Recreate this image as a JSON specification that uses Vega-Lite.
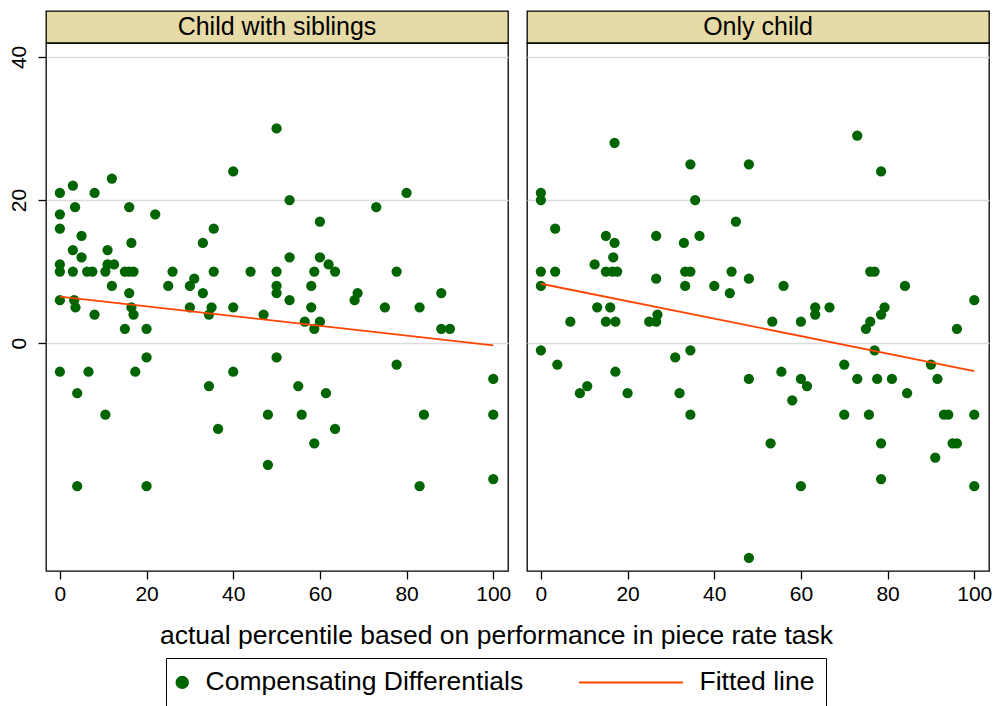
{
  "$schema": "https://vega.github.io/schema/vega-lite/v6.json",
  "padding": {"left": 7, "top": 10, "right": 5, "bottom": 0},
  "background": "white",
  "config": {
    "font": "Liberation Sans",
    "view": {"stroke": "black", "strokeWidth": 1.3},
    "axis": {"labelFont": "Liberation Sans", "labelFontSize": 21, "labelColor": "black", "tickColor": "black", "tickSize": 8, "tickWidth": 1.3, "domain": false, "gridColor": "#DCDCDC", "gridWidth": 1.5}
  },
  "datasets": {
    "pts": [
      {"g":"Child with siblings","s":"Compensating Differentials","x":50,"y":30},
      {"g":"Child with siblings","s":"Compensating Differentials","x":40,"y":24},
      {"g":"Child with siblings","s":"Compensating Differentials","x":12,"y":23},
      {"g":"Child with siblings","s":"Compensating Differentials","x":0,"y":21},
      {"g":"Child with siblings","s":"Compensating Differentials","x":3,"y":22},
      {"g":"Child with siblings","s":"Compensating Differentials","x":8,"y":21},
      {"g":"Child with siblings","s":"Compensating Differentials","x":3.5,"y":19},
      {"g":"Child with siblings","s":"Compensating Differentials","x":16,"y":19},
      {"g":"Child with siblings","s":"Compensating Differentials","x":22,"y":18},
      {"g":"Child with siblings","s":"Compensating Differentials","x":0,"y":18},
      {"g":"Child with siblings","s":"Compensating Differentials","x":0,"y":16},
      {"g":"Child with siblings","s":"Compensating Differentials","x":5,"y":15},
      {"g":"Child with siblings","s":"Compensating Differentials","x":35.5,"y":16},
      {"g":"Child with siblings","s":"Compensating Differentials","x":33,"y":14},
      {"g":"Child with siblings","s":"Compensating Differentials","x":16.5,"y":14},
      {"g":"Child with siblings","s":"Compensating Differentials","x":3,"y":13},
      {"g":"Child with siblings","s":"Compensating Differentials","x":11,"y":13},
      {"g":"Child with siblings","s":"Compensating Differentials","x":5,"y":12},
      {"g":"Child with siblings","s":"Compensating Differentials","x":11,"y":11},
      {"g":"Child with siblings","s":"Compensating Differentials","x":12.5,"y":11},
      {"g":"Child with siblings","s":"Compensating Differentials","x":0,"y":11},
      {"g":"Child with siblings","s":"Compensating Differentials","x":0,"y":10},
      {"g":"Child with siblings","s":"Compensating Differentials","x":3,"y":10},
      {"g":"Child with siblings","s":"Compensating Differentials","x":6.3,"y":10},
      {"g":"Child with siblings","s":"Compensating Differentials","x":7.5,"y":10},
      {"g":"Child with siblings","s":"Compensating Differentials","x":10.5,"y":10},
      {"g":"Child with siblings","s":"Compensating Differentials","x":15,"y":10},
      {"g":"Child with siblings","s":"Compensating Differentials","x":16,"y":10},
      {"g":"Child with siblings","s":"Compensating Differentials","x":17,"y":10},
      {"g":"Child with siblings","s":"Compensating Differentials","x":26,"y":10},
      {"g":"Child with siblings","s":"Compensating Differentials","x":35.5,"y":10},
      {"g":"Child with siblings","s":"Compensating Differentials","x":44,"y":10},
      {"g":"Child with siblings","s":"Compensating Differentials","x":50,"y":10},
      {"g":"Child with siblings","s":"Compensating Differentials","x":12,"y":8},
      {"g":"Child with siblings","s":"Compensating Differentials","x":25,"y":8},
      {"g":"Child with siblings","s":"Compensating Differentials","x":30,"y":8},
      {"g":"Child with siblings","s":"Compensating Differentials","x":31,"y":9},
      {"g":"Child with siblings","s":"Compensating Differentials","x":16,"y":7},
      {"g":"Child with siblings","s":"Compensating Differentials","x":33,"y":7},
      {"g":"Child with siblings","s":"Compensating Differentials","x":50,"y":8},
      {"g":"Child with siblings","s":"Compensating Differentials","x":50,"y":7},
      {"g":"Child with siblings","s":"Compensating Differentials","x":0,"y":6},
      {"g":"Child with siblings","s":"Compensating Differentials","x":3.3,"y":6},
      {"g":"Child with siblings","s":"Compensating Differentials","x":3.6,"y":5},
      {"g":"Child with siblings","s":"Compensating Differentials","x":8,"y":4},
      {"g":"Child with siblings","s":"Compensating Differentials","x":16.5,"y":5},
      {"g":"Child with siblings","s":"Compensating Differentials","x":17,"y":4},
      {"g":"Child with siblings","s":"Compensating Differentials","x":30,"y":5},
      {"g":"Child with siblings","s":"Compensating Differentials","x":35,"y":5},
      {"g":"Child with siblings","s":"Compensating Differentials","x":34.4,"y":4},
      {"g":"Child with siblings","s":"Compensating Differentials","x":40,"y":5},
      {"g":"Child with siblings","s":"Compensating Differentials","x":47,"y":4},
      {"g":"Child with siblings","s":"Compensating Differentials","x":15,"y":2},
      {"g":"Child with siblings","s":"Compensating Differentials","x":20,"y":2},
      {"g":"Child with siblings","s":"Compensating Differentials","x":53,"y":20},
      {"g":"Child with siblings","s":"Compensating Differentials","x":73,"y":19},
      {"g":"Child with siblings","s":"Compensating Differentials","x":80,"y":21},
      {"g":"Child with siblings","s":"Compensating Differentials","x":60,"y":17},
      {"g":"Child with siblings","s":"Compensating Differentials","x":53,"y":12},
      {"g":"Child with siblings","s":"Compensating Differentials","x":60,"y":12},
      {"g":"Child with siblings","s":"Compensating Differentials","x":62,"y":11},
      {"g":"Child with siblings","s":"Compensating Differentials","x":63.5,"y":10},
      {"g":"Child with siblings","s":"Compensating Differentials","x":58.7,"y":10},
      {"g":"Child with siblings","s":"Compensating Differentials","x":77.7,"y":10},
      {"g":"Child with siblings","s":"Compensating Differentials","x":58,"y":8},
      {"g":"Child with siblings","s":"Compensating Differentials","x":53,"y":6},
      {"g":"Child with siblings","s":"Compensating Differentials","x":68.7,"y":7},
      {"g":"Child with siblings","s":"Compensating Differentials","x":68,"y":6},
      {"g":"Child with siblings","s":"Compensating Differentials","x":58,"y":5},
      {"g":"Child with siblings","s":"Compensating Differentials","x":75,"y":5},
      {"g":"Child with siblings","s":"Compensating Differentials","x":83,"y":5},
      {"g":"Child with siblings","s":"Compensating Differentials","x":88,"y":7},
      {"g":"Child with siblings","s":"Compensating Differentials","x":56.5,"y":3},
      {"g":"Child with siblings","s":"Compensating Differentials","x":60,"y":3},
      {"g":"Child with siblings","s":"Compensating Differentials","x":58.7,"y":2},
      {"g":"Child with siblings","s":"Compensating Differentials","x":88,"y":2},
      {"g":"Child with siblings","s":"Compensating Differentials","x":90,"y":2},
      {"g":"Child with siblings","s":"Compensating Differentials","x":20,"y":-2},
      {"g":"Child with siblings","s":"Compensating Differentials","x":0,"y":-4},
      {"g":"Child with siblings","s":"Compensating Differentials","x":6.6,"y":-4},
      {"g":"Child with siblings","s":"Compensating Differentials","x":17.4,"y":-4},
      {"g":"Child with siblings","s":"Compensating Differentials","x":4,"y":-7},
      {"g":"Child with siblings","s":"Compensating Differentials","x":10.5,"y":-10},
      {"g":"Child with siblings","s":"Compensating Differentials","x":4,"y":-20},
      {"g":"Child with siblings","s":"Compensating Differentials","x":20,"y":-20},
      {"g":"Child with siblings","s":"Compensating Differentials","x":34.4,"y":-6},
      {"g":"Child with siblings","s":"Compensating Differentials","x":40,"y":-4},
      {"g":"Child with siblings","s":"Compensating Differentials","x":36.5,"y":-12},
      {"g":"Child with siblings","s":"Compensating Differentials","x":50,"y":-2},
      {"g":"Child with siblings","s":"Compensating Differentials","x":48,"y":-10},
      {"g":"Child with siblings","s":"Compensating Differentials","x":48,"y":-17},
      {"g":"Child with siblings","s":"Compensating Differentials","x":77.7,"y":-3},
      {"g":"Child with siblings","s":"Compensating Differentials","x":55,"y":-6},
      {"g":"Child with siblings","s":"Compensating Differentials","x":61.4,"y":-7},
      {"g":"Child with siblings","s":"Compensating Differentials","x":55.8,"y":-10},
      {"g":"Child with siblings","s":"Compensating Differentials","x":63.5,"y":-12},
      {"g":"Child with siblings","s":"Compensating Differentials","x":58.7,"y":-14},
      {"g":"Child with siblings","s":"Compensating Differentials","x":84,"y":-10},
      {"g":"Child with siblings","s":"Compensating Differentials","x":83,"y":-20},
      {"g":"Child with siblings","s":"Compensating Differentials","x":100,"y":-5},
      {"g":"Child with siblings","s":"Compensating Differentials","x":100,"y":-10},
      {"g":"Child with siblings","s":"Compensating Differentials","x":100,"y":-19},
      {"g":"Child with siblings","s":"Fitted line","x":0,"y":6.5},
      {"g":"Child with siblings","s":"Fitted line","x":100,"y":-0.3},
      {"g":"Only child","s":"Compensating Differentials","x":17,"y":28},
      {"g":"Only child","s":"Compensating Differentials","x":34.5,"y":25},
      {"g":"Only child","s":"Compensating Differentials","x":48,"y":25},
      {"g":"Only child","s":"Compensating Differentials","x":0,"y":21},
      {"g":"Only child","s":"Compensating Differentials","x":0,"y":20},
      {"g":"Only child","s":"Compensating Differentials","x":35.6,"y":20},
      {"g":"Only child","s":"Compensating Differentials","x":45,"y":17},
      {"g":"Only child","s":"Compensating Differentials","x":3.3,"y":16},
      {"g":"Only child","s":"Compensating Differentials","x":15,"y":15},
      {"g":"Only child","s":"Compensating Differentials","x":17,"y":14},
      {"g":"Only child","s":"Compensating Differentials","x":26.6,"y":15},
      {"g":"Only child","s":"Compensating Differentials","x":36.6,"y":15},
      {"g":"Only child","s":"Compensating Differentials","x":33,"y":14},
      {"g":"Only child","s":"Compensating Differentials","x":16.7,"y":12},
      {"g":"Only child","s":"Compensating Differentials","x":12.4,"y":11},
      {"g":"Only child","s":"Compensating Differentials","x":0,"y":10},
      {"g":"Only child","s":"Compensating Differentials","x":3.3,"y":10},
      {"g":"Only child","s":"Compensating Differentials","x":15,"y":10},
      {"g":"Only child","s":"Compensating Differentials","x":16.5,"y":10},
      {"g":"Only child","s":"Compensating Differentials","x":17.6,"y":10},
      {"g":"Only child","s":"Compensating Differentials","x":33.3,"y":10},
      {"g":"Only child","s":"Compensating Differentials","x":34.5,"y":10},
      {"g":"Only child","s":"Compensating Differentials","x":44,"y":10},
      {"g":"Only child","s":"Compensating Differentials","x":26.6,"y":9},
      {"g":"Only child","s":"Compensating Differentials","x":48,"y":9},
      {"g":"Only child","s":"Compensating Differentials","x":0,"y":8},
      {"g":"Only child","s":"Compensating Differentials","x":33.3,"y":8},
      {"g":"Only child","s":"Compensating Differentials","x":40,"y":8},
      {"g":"Only child","s":"Compensating Differentials","x":43.6,"y":7},
      {"g":"Only child","s":"Compensating Differentials","x":13,"y":5},
      {"g":"Only child","s":"Compensating Differentials","x":16,"y":5},
      {"g":"Only child","s":"Compensating Differentials","x":6.8,"y":3},
      {"g":"Only child","s":"Compensating Differentials","x":15,"y":3},
      {"g":"Only child","s":"Compensating Differentials","x":17.2,"y":3},
      {"g":"Only child","s":"Compensating Differentials","x":26.9,"y":4},
      {"g":"Only child","s":"Compensating Differentials","x":25,"y":3},
      {"g":"Only child","s":"Compensating Differentials","x":26.6,"y":3},
      {"g":"Only child","s":"Compensating Differentials","x":0,"y":-1},
      {"g":"Only child","s":"Compensating Differentials","x":34.5,"y":-1},
      {"g":"Only child","s":"Compensating Differentials","x":73,"y":29},
      {"g":"Only child","s":"Compensating Differentials","x":78.5,"y":24},
      {"g":"Only child","s":"Compensating Differentials","x":56,"y":8},
      {"g":"Only child","s":"Compensating Differentials","x":76,"y":10},
      {"g":"Only child","s":"Compensating Differentials","x":77,"y":10},
      {"g":"Only child","s":"Compensating Differentials","x":84,"y":8},
      {"g":"Only child","s":"Compensating Differentials","x":63.3,"y":5},
      {"g":"Only child","s":"Compensating Differentials","x":63.3,"y":4},
      {"g":"Only child","s":"Compensating Differentials","x":66.6,"y":5},
      {"g":"Only child","s":"Compensating Differentials","x":79.3,"y":5},
      {"g":"Only child","s":"Compensating Differentials","x":78.5,"y":4},
      {"g":"Only child","s":"Compensating Differentials","x":100,"y":6},
      {"g":"Only child","s":"Compensating Differentials","x":53.4,"y":3},
      {"g":"Only child","s":"Compensating Differentials","x":60,"y":3},
      {"g":"Only child","s":"Compensating Differentials","x":76,"y":3},
      {"g":"Only child","s":"Compensating Differentials","x":75,"y":2},
      {"g":"Only child","s":"Compensating Differentials","x":96,"y":2},
      {"g":"Only child","s":"Compensating Differentials","x":77,"y":-1},
      {"g":"Only child","s":"Compensating Differentials","x":3.8,"y":-3},
      {"g":"Only child","s":"Compensating Differentials","x":9,"y":-7},
      {"g":"Only child","s":"Compensating Differentials","x":10.7,"y":-6},
      {"g":"Only child","s":"Compensating Differentials","x":17.2,"y":-4},
      {"g":"Only child","s":"Compensating Differentials","x":20,"y":-7},
      {"g":"Only child","s":"Compensating Differentials","x":31,"y":-2},
      {"g":"Only child","s":"Compensating Differentials","x":32,"y":-7},
      {"g":"Only child","s":"Compensating Differentials","x":34.5,"y":-10},
      {"g":"Only child","s":"Compensating Differentials","x":48,"y":-5},
      {"g":"Only child","s":"Compensating Differentials","x":48,"y":-30},
      {"g":"Only child","s":"Compensating Differentials","x":70,"y":-3},
      {"g":"Only child","s":"Compensating Differentials","x":90,"y":-3},
      {"g":"Only child","s":"Compensating Differentials","x":55.5,"y":-4},
      {"g":"Only child","s":"Compensating Differentials","x":60,"y":-5},
      {"g":"Only child","s":"Compensating Differentials","x":61.4,"y":-6},
      {"g":"Only child","s":"Compensating Differentials","x":73,"y":-5},
      {"g":"Only child","s":"Compensating Differentials","x":77.6,"y":-5},
      {"g":"Only child","s":"Compensating Differentials","x":81,"y":-5},
      {"g":"Only child","s":"Compensating Differentials","x":91.5,"y":-5},
      {"g":"Only child","s":"Compensating Differentials","x":84.5,"y":-7},
      {"g":"Only child","s":"Compensating Differentials","x":58,"y":-8},
      {"g":"Only child","s":"Compensating Differentials","x":70,"y":-10},
      {"g":"Only child","s":"Compensating Differentials","x":75.7,"y":-10},
      {"g":"Only child","s":"Compensating Differentials","x":93,"y":-10},
      {"g":"Only child","s":"Compensating Differentials","x":94,"y":-10},
      {"g":"Only child","s":"Compensating Differentials","x":100,"y":-10},
      {"g":"Only child","s":"Compensating Differentials","x":53,"y":-14},
      {"g":"Only child","s":"Compensating Differentials","x":78.5,"y":-14},
      {"g":"Only child","s":"Compensating Differentials","x":95,"y":-14},
      {"g":"Only child","s":"Compensating Differentials","x":96,"y":-14},
      {"g":"Only child","s":"Compensating Differentials","x":91,"y":-16},
      {"g":"Only child","s":"Compensating Differentials","x":60,"y":-20},
      {"g":"Only child","s":"Compensating Differentials","x":78.5,"y":-19},
      {"g":"Only child","s":"Compensating Differentials","x":100,"y":-20},
      {"g":"Only child","s":"Fitted line","x":0,"y":8.3},
      {"g":"Only child","s":"Fitted line","x":100,"y":-3.9}
    ]
  },
  "data": {"name": "pts"},
  "columns": 2,
  "spacing": {"row": 0, "column": 19},
  "bounds": "flush",
  "concat": [
    {
      "data": {"values": [{"t": "Child with siblings"}]},
      "width": 462, "height": 32,
      "view": {"fill": "#E6DAA6", "stroke": "black", "strokeWidth": 1.3},
      "mark": {"type": "text", "fontSize": 25, "font": "Liberation Sans", "color": "black"},
      "encoding": {"text": {"field": "t", "type": "nominal"}}
    },
    {
      "data": {"values": [{"t": "Only child"}]},
      "width": 462, "height": 32,
      "view": {"fill": "#E6DAA6", "stroke": "black", "strokeWidth": 1.3},
      "mark": {"type": "text", "fontSize": 25, "font": "Liberation Sans", "color": "black"},
      "encoding": {"text": {"field": "t", "type": "nominal"}}
    },
    {
      "width": 462, "height": 528,
      "transform": [{"filter": "datum.g === 'Child with siblings'"}],
      "encoding": {
        "x": {"field": "x", "type": "quantitative", "scale": {"domain": [-3.2, 103.4], "nice": false, "zero": false},
          "axis": {"values": [0,20,40,60,80,100], "grid": false, "labelPadding": 4,
            "title": "actual percentile based on performance in piece rate task",
            "titleX": 450, "titleY": 51, "titleAlign": "center", "titleBaseline": "top", "titleAnchor": "middle",
            "titleFont": "Liberation Sans", "titleFontSize": 26.5, "titleFontWeight": "normal", "titleColor": "black"}},
        "y": {"field": "y", "type": "quantitative", "scale": {"domain": [-31.85, 41.95], "nice": false, "zero": false},
          "axis": {"values": [0,20,40], "labelAngle": 270, "labelAlign": "center", "labelBaseline": "alphabetic", "labelPadding": 13, "grid": true, "title": null}}
      },
      "layer": [
        {
          "transform": [{"filter": "datum.s === 'Compensating Differentials'"}],
          "mark": {"type": "point", "filled": true, "size": 105, "opacity": 1},
          "encoding": {
            "fill": {"field": "s", "type": "nominal",
              "scale": {"domain": ["Compensating Differentials", "Fitted line"], "range": ["#006400", "transparent"]},
              "legend": {
                "orient": "none", "legendX": 120, "legendY": 647, "direction": "horizontal", "title": null,
                "strokeColor": "black", "fillColor": "white", "padding": 11,
                "labelFont": "Liberation Sans", "labelFontSize": 26.5, "labelColor": "black", "labelOffset": 10, "labelLimit": 0,
                "symbolSize": 180, "symbolStrokeWidth": 2, "symbolOpacity": 1, "symbolOffset": -8, "columnPadding": 50
              }
            },
            "stroke": {"field": "s", "type": "nominal",
              "scale": {"domain": ["Compensating Differentials", "Fitted line"], "range": ["transparent", "#FF4500"]}},
            "shape": {"field": "s", "type": "nominal",
              "scale": {"domain": ["Compensating Differentials", "Fitted line"], "range": ["circle", "M-14.5,0H1"]}}
          }
        },
        {
          "transform": [{"filter": "datum.s === 'Fitted line'"}],
          "mark": {"type": "line", "strokeWidth": 1.8},
          "encoding": {"stroke": {"field": "s", "type": "nominal"}}
        }
      ]
    },
    {
      "width": 462, "height": 528,
      "transform": [{"filter": "datum.g === 'Only child'"}],
      "encoding": {
        "x": {"field": "x", "type": "quantitative", "scale": {"domain": [-3.2, 103.4], "nice": false, "zero": false},
          "axis": {"values": [0,20,40,60,80,100], "grid": false, "labelPadding": 4, "title": null}},
        "y": {"field": "y", "type": "quantitative", "scale": {"domain": [-31.85, 41.95], "nice": false, "zero": false},
          "axis": {"values": [0,20,40], "labels": false, "ticks": false, "grid": true, "title": null}}
      },
      "layer": [
        {
          "transform": [{"filter": "datum.s === 'Compensating Differentials'"}],
          "mark": {"type": "point", "filled": true, "size": 105, "opacity": 1},
          "encoding": {
            "fill": {"field": "s", "type": "nominal"},
            "stroke": {"field": "s", "type": "nominal"},
            "shape": {"field": "s", "type": "nominal"}
          }
        },
        {
          "transform": [{"filter": "datum.s === 'Fitted line'"}],
          "mark": {"type": "line", "strokeWidth": 1.8},
          "encoding": {"stroke": {"field": "s", "type": "nominal"}}
        }
      ]
    }
  ]
}
